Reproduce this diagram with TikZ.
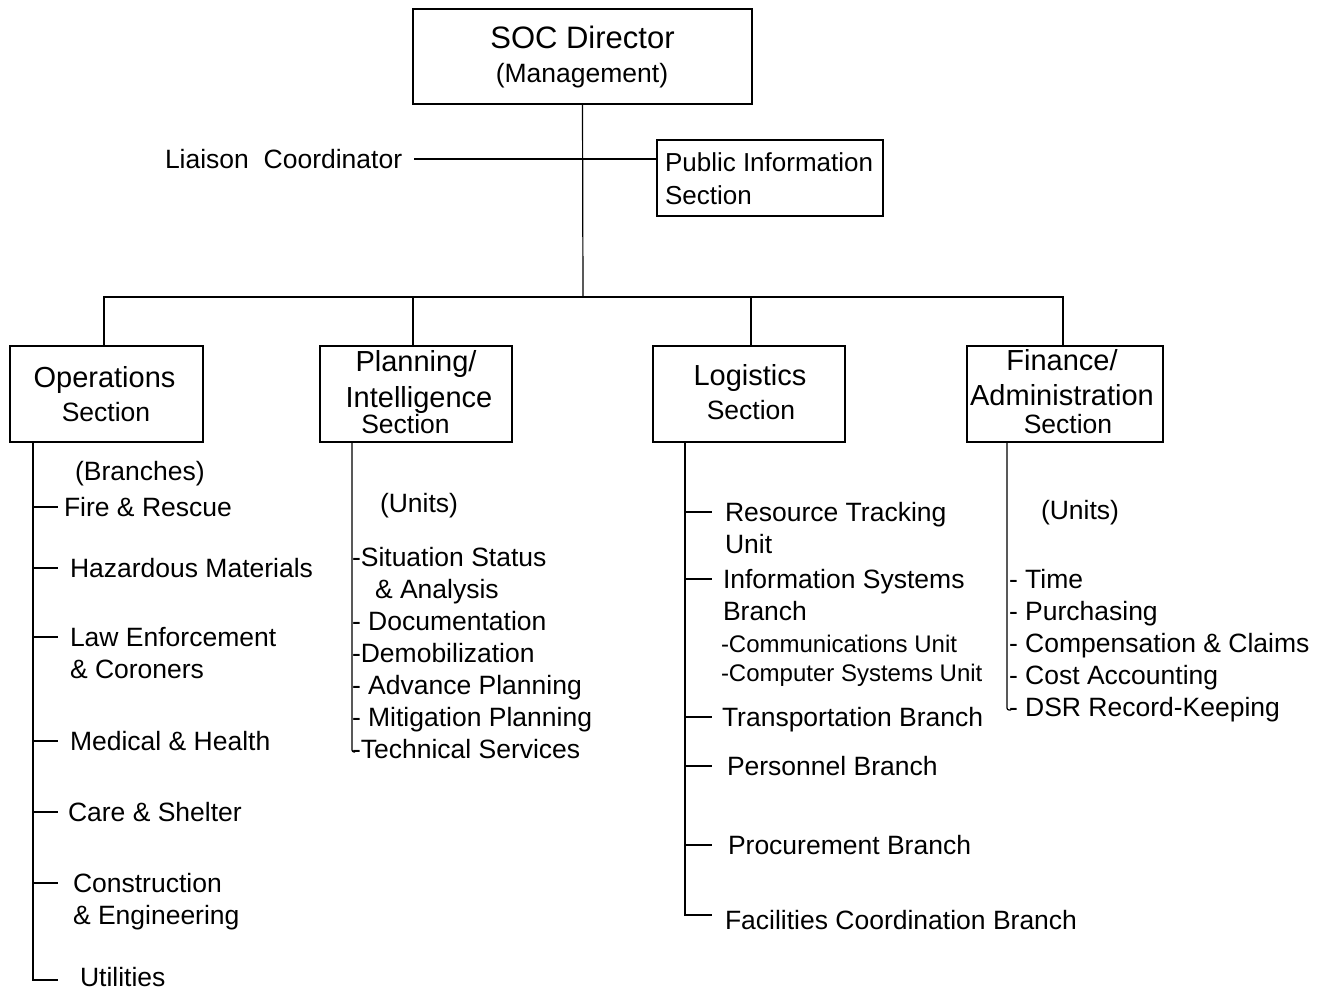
\documentclass[tikz,border=0pt]{standalone}
\usepackage{fontspec}
\setmainfont{Liberation Sans}
\usetikzlibrary{calc}
\begin{document}
\begin{tikzpicture}[x=1pt,y=-1pt,
  every node/.style={inner sep=0pt, outer sep=0pt},
  item/.style={anchor=west, text height=19pt, text depth=0pt, font=\fontsize{26.5}{32}\selectfont},
  smallitem/.style={anchor=west, text height=17pt, text depth=0pt, font=\fontsize{24}{29}\selectfont},
  head/.style={anchor=base, font=\fontsize{29}{35}\selectfont},
  sect/.style={anchor=base, font=\fontsize{26.5}{32}\selectfont},
  secbox/.style={draw, line width=2.8pt, minimum height=96pt},
  link/.style={line width=1.2pt},
]
\fill[white] (0,0) rectangle (1326,992);
\useasboundingbox (0,0) rectangle (1326,992);

% ---- top level ----
\node[draw, line width=2.8pt, minimum width=339pt, minimum height=95pt] (soc) at (582.5,56.5) {};
\node[anchor=base, font=\fontsize{31}{37}\selectfont] (socT) at (582.5,49) {SOC Director};
\node[sect] (socM) at (582,83) {(Management)};

\node[draw, line width=1.2pt, minimum width=226pt, minimum height=76pt] (pub) at (770,178) {};
\node[item, font=\fontsize{26}{32}\selectfont] (pubA) at (665,162) {Public Information};
\node[item, font=\fontsize{26}{32}\selectfont] (pubB) at (665,195) {Section};

\node[item] (liaison) at (165,159) {Liaison\ \ Coordinator};

% ---- section boxes ----
\node[secbox, minimum width=193pt] (ops)  at (106.5,394) {};
\node[secbox, minimum width=192pt] (plan) at (416,394) {};
\node[secbox, minimum width=192pt] (log)  at (749,394) {};
\node[secbox, minimum width=196pt] (fin)  at (1065,394) {};

\node[head] (opsA) at (104.5,388) {Operations};
\node[sect] (opsB) at (106,421.5) {Section};
\node[head] (planA) at (416,372) {Planning/};
\node[head] (planB) at (419,407) {Intelligence};
\node[sect] (planC) at (405.5,433) {Section};
\node[head] (logA) at (750,386) {Logistics};
\node[sect] (logB) at (751,419) {Section};
\node[head] (finA) at (1062,371) {Finance/};
\node[head] (finB) at (1062,406) {Administration};
\node[sect] (finC) at (1068,433) {Section};

% ---- connectors between levels ----
\coordinate (bus)  at (583,297);
\coordinate (dOps) at (104,297);
\coordinate (dPlan) at (413,297);
\coordinate (dLog) at (751,297);
\coordinate (dFin) at (1063,297);
\draw[link] (soc.south) -- (bus);
\draw[link] (dOps |- ops.north) -- (dOps) -- (dFin) -- (dFin |- fin.north);
\draw[link] (dPlan) -- (dPlan |- plan.north);
\draw[link] (dLog) -- (dLog |- log.north);
\draw[link] ([xshift=12pt]liaison.east) -- (liaison.east -| pub.west);

% ---- Operations branches ----
\node[item] (opsHdr) at (75,471) {(Branches)};
\node[item] (fire) at (64,507) {Fire \& Rescue};
\node[item] (haz) at (70,568) {Hazardous Materials};
\node[item] (law) at (70,637) {Law Enforcement};
\node[item] (law2) at (70,669) {\& Coroners};
\node[item] (med) at (70,741) {Medical \& Health};
\node[item] (care) at (68,812) {Care \& Shelter};
\node[item] (cons) at (73,883) {Construction};
\node[item] (cons2) at (73,915) {\& Engineering};
\node[item] (util) at (80,977) {Utilities};

\coordinate (oT) at (33,442);
\draw[link] (oT) |- ([xshift=-22pt,yshift=-3pt]util.west);
\foreach \n in {fire,haz,law,med,care,cons}
  \draw[link] (oT |- \n.west) -- ++(25,0);

% ---- Planning / Intelligence units ----
\node[item] (planHdr) at (380,503) {(Units)};
\node[item] (sit) at (352,557) {-Situation Status};
\node[item] (sit2) at (375,589) {\& Analysis};
\node[item] (doc) at (352,621) {- Documentation};
\node[item] (demob) at (352,653) {-Demobilization};
\node[item] (adv) at (352,685) {- Advance Planning};
\node[item] (mit) at (352,717) {- Mitigation Planning};
\node[item] (tech) at (352,749) {-Technical Services};

\coordinate (pT) at (352,442);
\draw[link, rounded corners=2pt] (pT) |- ([xshift=3pt,yshift=-3pt]tech.west);

% ---- Logistics branches ----
\node[item] (res) at (725,512) {Resource Tracking};
\node[item] (res2) at (725,544) {Unit};
\node[item] (info) at (723,579) {Information Systems};
\node[item] (info2) at (723,611) {Branch};
\node[smallitem] (comm) at (721,644) {-Communications Unit};
\node[smallitem] (comp) at (721,673) {-Computer Systems Unit};
\node[item] (trans) at (722,717) {Transportation Branch};
\node[item] (pers) at (727,766) {Personnel Branch};
\node[item] (proc) at (728,845) {Procurement Branch};
\node[item] (fac) at (725,920) {Facilities Coordination Branch};

\coordinate (lT) at (685,442);
\draw[link] (lT) |- ([xshift=-13pt,yshift=5pt]fac.west);
\foreach \n in {res,info,trans,pers,proc}
  \draw[link] (lT |- \n.west) -- ++(27,0);

% ---- Finance / Administration units ----
\node[item] (finHdr) at (1041,510) {(Units)};
\node[item] (time) at (1009,579) {- Time};
\node[item] (purch) at (1009,611) {- Purchasing};
\node[item] (comp2) at (1009,643) {- Compensation \& Claims};
\node[item] (cost) at (1009,675) {- Cost Accounting};
\node[item] (dsr) at (1009,707) {- DSR Record-Keeping};

\coordinate (fT) at (1007,442);
\draw[link, rounded corners=2pt] (fT) |- ([xshift=2pt,yshift=-3pt]dsr.west);
\end{tikzpicture}
\end{document}
